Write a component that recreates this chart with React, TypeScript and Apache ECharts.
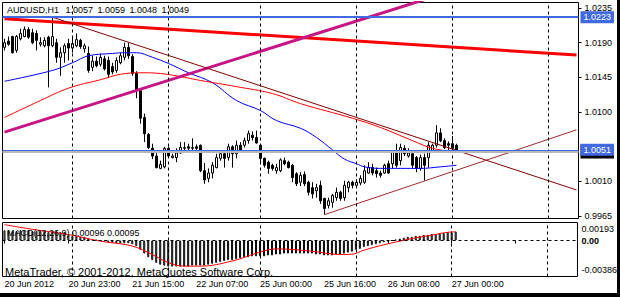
import React, { useEffect, useRef } from 'react';
import * as echarts from 'echarts';

// ---------- data ----------
const symbolName = 'AUDUSD,H1';
const lastOHLC = ['1.0057', '1.0059', '1.0048', '1.0049'];
const macdTitle = 'MACD(12,26,9) 0.00096 0.00095';
const copyright = 'MetaTrader, © 2001-2012, MetaQuotes Software Corp.';

const slotCount = 144; // hourly slots shown on the x axis (incl. empty future space)
const tickEvery = 16;
const timeTickLabels = [
  '20 Jun 2012', '20 Jun 23:00', '21 Jun 15:00', '22 Jun 07:00',
  '25 Jun 00:00', '25 Jun 16:00', '26 Jun 08:00', '27 Jun 00:00',
];
const dayStartBars = [17, 41, 64, 88, 112, 136];
const priceTicks = [0.9965, 1.001, 1.01, 1.0145, 1.019, 1.0235];
const priceMin = 0.9962;
const priceMax = 1.02421;

// [open, close, low, high]
const candles: number[][] = [
  [1.0184, 1.0190, 1.0180, 1.0195], [1.0192, 1.0188, 1.0186, 1.0198], [1.0198, 1.0177, 1.0176, 1.0199],
  [1.0180, 1.0198, 1.0177, 1.0200], [1.0195, 1.0202, 1.0193, 1.0208], [1.0198, 1.0207, 1.0197, 1.0211],
  [1.0207, 1.0197, 1.0195, 1.0210], [1.0203, 1.0190, 1.0188, 1.0208], [1.0202, 1.0193, 1.0180, 1.0206],
  [1.0188, 1.0190, 1.0185, 1.0197], [1.0186, 1.0193, 1.0184, 1.0197], [1.0197, 1.0186, 1.0132, 1.0199],
  [1.0186, 1.0198, 1.0184, 1.0223], [1.0190, 1.0171, 1.0164, 1.0195], [1.0171, 1.0177, 1.0147, 1.0184],
  [1.0177, 1.0186, 1.0164, 1.0189], [1.0189, 1.0183, 1.0167, 1.0195], [1.0183, 1.0189, 1.0177, 1.0197],
  [1.0186, 1.0194, 1.0184, 1.0202], [1.0193, 1.0185, 1.0182, 1.0195], [1.0182, 1.0186, 1.0177, 1.0189],
  [1.0176, 1.0154, 1.0151, 1.0185], [1.0158, 1.0166, 1.0153, 1.0173], [1.0166, 1.0160, 1.0158, 1.0172],
  [1.0162, 1.0171, 1.0159, 1.0176], [1.0169, 1.0156, 1.0154, 1.0173], [1.0167, 1.0149, 1.0144, 1.0172],
  [1.0159, 1.0152, 1.0149, 1.0164], [1.0154, 1.0167, 1.0151, 1.0171], [1.0164, 1.0173, 1.0162, 1.0177],
  [1.0171, 1.0184, 1.0167, 1.0190], [1.0184, 1.0173, 1.0169, 1.0190], [1.0172, 1.0150, 1.0147, 1.0175],
  [1.0150, 1.0128, 1.0118, 1.0153], [1.0128, 1.0092, 1.0085, 1.0131], [1.0093, 1.0072, 1.0061, 1.0098],
  [1.0071, 1.0054, 1.0052, 1.0073], [1.0053, 1.0043, 1.0039, 1.0059], [1.0043, 1.0028, 1.0027, 1.0047],
  [1.0027, 1.0032, 1.0026, 1.0037], [1.0029, 1.0053, 1.0027, 1.0055], [1.0053, 1.0043, 1.0042, 1.0055],
  [1.0041, 1.0043, 1.0040, 1.0046], [1.0041, 1.0047, 1.0035, 1.0053], [1.0047, 1.0054, 1.0046, 1.0061],
  [1.0053, 1.0054, 1.0050, 1.0061], [1.0055, 1.0053, 1.0051, 1.0059], [1.0053, 1.0054, 1.0050, 1.0066],
  [1.0055, 1.0053, 1.0051, 1.0058], [1.0057, 1.0024, 1.0022, 1.0058], [1.0024, 1.0012, 1.0007, 1.0034],
  [1.0014, 1.0021, 1.0009, 1.0027], [1.0021, 1.0031, 1.0014, 1.0035], [1.0028, 1.0041, 1.0027, 1.0046],
  [1.0040, 1.0046, 1.0037, 1.0049], [1.0046, 1.0040, 1.0028, 1.0047], [1.0041, 1.0055, 1.0037, 1.0059],
  [1.0055, 1.0046, 1.0028, 1.0057], [1.0046, 1.0057, 1.0040, 1.0063], [1.0057, 1.0050, 1.0048, 1.0061],
  [1.0057, 1.0063, 1.0054, 1.0067], [1.0063, 1.0072, 1.0059, 1.0076], [1.0070, 1.0067, 1.0063, 1.0075],
  [1.0067, 1.0060, 1.0059, 1.0076], [1.0057, 1.0040, 1.0034, 1.0058], [1.0040, 1.0031, 1.0028, 1.0041],
  [1.0035, 1.0027, 1.0020, 1.0037], [1.0031, 1.0027, 1.0024, 1.0033], [1.0024, 1.0028, 1.0020, 1.0033],
  [1.0024, 1.0038, 1.0022, 1.0040], [1.0037, 1.0033, 1.0031, 1.0041], [1.0035, 1.0028, 1.0027, 1.0037],
  [1.0031, 1.0015, 1.0009, 1.0033], [1.0020, 1.0007, 1.0004, 1.0022], [1.0009, 1.0018, 1.0004, 1.0022],
  [1.0019, 1.0007, 1.0004, 1.0023], [1.0009, 0.9996, 0.9992, 1.0011], [1.0002, 0.9994, 0.9988, 1.0009],
  [0.9998, 1.0002, 0.9989, 1.0007], [1.0005, 0.9985, 0.9981, 1.0011], [0.9988, 0.9975, 0.9967, 0.9989],
  [0.9979, 0.9985, 0.9975, 0.9989], [0.9983, 0.9992, 0.9976, 0.9994], [0.9989, 0.9996, 0.9985, 1.0002],
  [0.9996, 0.9988, 0.9985, 0.9998], [0.9989, 1.0005, 0.9985, 1.0011], [1.0002, 1.0009, 0.9996, 1.0011],
  [1.0009, 1.0005, 1.0001, 1.0011], [1.0005, 1.0009, 1.0002, 1.0013], [1.0008, 1.0014, 1.0005, 1.0018],
  [1.0009, 1.0024, 1.0007, 1.0031], [1.0021, 1.0028, 1.0020, 1.0035], [1.0028, 1.0021, 1.0018, 1.0033],
  [1.0024, 1.0020, 1.0015, 1.0028], [1.0021, 1.0018, 1.0015, 1.0024], [1.0021, 1.0031, 1.0020, 1.0033],
  [1.0033, 1.0021, 1.0020, 1.0037], [1.0033, 1.0048, 1.0027, 1.0050], [1.0050, 1.0031, 1.0028, 1.0059],
  [1.0037, 1.0054, 1.0031, 1.0059], [1.0053, 1.0046, 1.0043, 1.0057], [1.0043, 1.0047, 1.0041, 1.0053],
  [1.0046, 1.0031, 1.0027, 1.0050], [1.0041, 1.0027, 1.0022, 1.0043], [1.0027, 1.0041, 1.0024, 1.0045],
  [1.0041, 1.0031, 1.0011, 1.0046], [1.0041, 1.0057, 1.0028, 1.0061], [1.0050, 1.0057, 1.0048, 1.0059],
  [1.0057, 1.0073, 1.0054, 1.0083], [1.0073, 1.0063, 1.0061, 1.0079], [1.0063, 1.0054, 1.0052, 1.0066],
  [1.0059, 1.0057, 1.0050, 1.0062], [1.0059, 1.0053, 1.0050, 1.0069], [1.0057, 1.0049, 1.0048, 1.0059],
];

// moving averages, [bar, price] read at points along the curves
const maBlue: number[][] = [
  [0, 1.0140], [12, 1.0154], [17, 1.0164], [21, 1.0173], [27, 1.0176], [30, 1.0177], [33, 1.0177],
  [37, 1.0171], [41, 1.0163], [46, 1.0151], [52, 1.0138], [58, 1.0115], [64, 1.0102], [68, 1.0089],
  [74, 1.0079], [78, 1.0067], [82, 1.0051], [85, 1.0039], [88, 1.0033], [90, 1.0029], [94, 1.0027],
  [99, 1.0027], [104, 1.0027], [109, 1.0029], [113, 1.0031],
];
const maRed: number[][] = [
  [0, 1.0093], [9, 1.0115], [16, 1.0131], [24, 1.0142], [29, 1.0149], [34, 1.0151], [39, 1.0150],
  [45, 1.0145], [49, 1.0141], [58, 1.0133], [67, 1.0124], [74, 1.0111], [87, 1.0092], [94, 1.0080],
  [102, 1.0063], [107, 1.0053], [113, 1.0048],
];

// drawn objects
const trendHigh: number[][] = [[12, 1.0223], [143, 0.9999]];
const trendLow: number[][] = [[80, 0.9967], [143, 1.0077]];
const channelMagenta: number[][] = [[0, 1.0074], [110, 1.0254]];
const trendRed: number[][] = [[0, 1.0221], [143, 1.0174]];
const levelTop = 1.0223;
const levelCurrent = 1.0051;
const bidPrice = 1.0049;

// MACD
const macdMain: number[] = [
  0.0011, 0.0011, 0.0010, 0.0010, 0.0011, 0.0011, 0.0011, 0.0010, 0.0010, 0.0010, 0.0010, 0.0009, 0.0010, 0.0010, 0.0009, 0.0009,
  0.0006, 0.0005, 0.0005, 0.0004, 0.0004, 0.0002, 0.0001,
  0.00005, 0.0, -0.0001,
  -0.0002, -0.00025, -0.0003, -0.0003, -0.0003, -0.0003, -0.0004,
  -0.0006, -0.0010, -0.0014, -0.0018, -0.0021,
  -0.0024, -0.0026, -0.0027, -0.0028, -0.0028, -0.0028, -0.0028,
  -0.0028, -0.0028, -0.0027, -0.0027, -0.0027, -0.0027,
  -0.0026, -0.0025, -0.0024, -0.0023, -0.0022, -0.0021, -0.0021,
  -0.0020, -0.0019, -0.0018, -0.0018, -0.0017, -0.0017, -0.0017,
  -0.0017, -0.0016, -0.0016, -0.0015, -0.0015, -0.0014, -0.0014, -0.0014, -0.0014, -0.0014, -0.0014, -0.0014,
  -0.0014, -0.0015, -0.0015, -0.0016, -0.0016, -0.0016, -0.0015, -0.0015, -0.0014, -0.0013, -0.0012,
  -0.0010, -0.0009, -0.0007, -0.0006, -0.0005, -0.0004,
  -0.0003, -0.0002, -0.0001, 0.0,
  0.0001, 0.0002, 0.0003, 0.0004, 0.0004, 0.0005, 0.0005,
  0.0006, 0.0006, 0.0007, 0.0007, 0.0008, 0.0008, 0.0009, 0.0009, 0.00096,
];
const macdSignal: number[][] = [
  [0, 0.0017], [7, 0.0012], [16, 0.00064], [24, -0.00007], [32, -0.0006], [37, -0.0015], [41, -0.00236],
  [45, -0.00275], [49, -0.00275], [57, -0.0022], [64, -0.00125], [68, -0.0009], [77, -0.00115],
  [84, -0.0015], [87, -0.00147], [90, -0.00104], [95, -0.00046], [99, -0.00007], [103, 0.00029],
  [107, 0.00057], [110, 0.00082], [113, 0.00095],
];
const macdTicks = [-0.00386, 0, 0.00193];

// ---------- chart ----------
const FONT = '"Liberation Sans", Arial, sans-serif';

export default function App() {
  const ref = useRef<HTMLDivElement>(null);

  useEffect(() => {
    if (!ref.current) return;
    const chart = echarts.init(ref.current, null, { renderer: 'svg' });
    const cats = Array.from({ length: slotCount }, (_, i) => String(i));
    const dashed = { color: '#000', width: 1, type: [3, 3] as number[] };
    const dayLines = dayStartBars.map((b) => ({ xAxis: b, lineStyle: dashed, label: { show: false } }));
    const txt = { fontSize: 9, fontFamily: FONT, color: '#000' };
    const priceTag = (bg: string, pad: number[]) => ({
      show: true,
      position: 'end',
      distance: 2,
      formatter: (p: any) => Number(p.value).toFixed(4),
      backgroundColor: bg,
      color: '#fff',
      fontSize: 9,
      fontFamily: FONT,
      padding: pad,
      lineHeight: 10,
    });
    const objLine = (data: number[][], color: string, width: number) => ({
      type: 'line',
      xAxisIndex: 0,
      yAxisIndex: 0,
      data,
      symbol: 'none',
      clip: true,
      silent: true,
      lineStyle: { color, width },
    });
    const header =
      `{s|${symbolName}}` + lastOHLC.map((v) => ` {n|${v}}`).join('');

    chart.setOption({
      animation: false,
      backgroundColor: '#fff',
      textStyle: { fontFamily: FONT },
      title: [
        {
          text: header,
          left: 7,
          top: 5,
          padding: 0,
          textStyle: {
            ...txt,
            fontWeight: 'normal',
            rich: { s: { ...txt, padding: [0, 2, 0, 0] }, n: { ...txt, padding: [0, 0, 0, 2] } },
          },
        },
        { text: macdTitle, left: 7, top: 228, padding: 0, textStyle: { ...txt, fontWeight: 'normal' } },
        { text: copyright, left: 5, top: 266, padding: 0, textStyle: { ...txt, fontSize: 11, fontWeight: 'normal' } },
      ],
      grid: [
        { left: 2.5, top: 2.5, width: 576, height: 216, show: true, borderColor: '#000', borderWidth: 1, backgroundColor: 'transparent' },
        { left: 2.5, top: 222.5, width: 576, height: 54, show: true, borderColor: '#000', borderWidth: 1, backgroundColor: 'transparent' },
      ],
      xAxis: [
        { type: 'category', gridIndex: 0, data: cats, boundaryGap: true, show: false },
        {
          type: 'category',
          gridIndex: 1,
          data: cats,
          boundaryGap: true,
          axisLine: { show: false },
          splitLine: { show: false },
          axisTick: { show: true, interval: tickEvery - 1, alignWithLabel: true, length: 3, lineStyle: { color: '#000' } },
          axisLabel: {
            ...txt,
            interval: tickEvery - 1,
            align: 'left',
            margin: 3,
            formatter: (_v: string, idx: number) => timeTickLabels[idx / tickEvery] ?? '',
          },
        },
      ],
      yAxis: [
        {
          type: 'value',
          gridIndex: 0,
          position: 'right',
          min: priceMin,
          max: priceMax,
          splitLine: { show: false },
          axisLine: { show: false },
          axisTick: { show: true, customValues: priceTicks, length: 3, lineStyle: { color: '#000' } },
          axisLabel: { ...txt, customValues: priceTicks, margin: 6, formatter: (v: number) => v.toFixed(4) },
        },
        {
          type: 'value',
          gridIndex: 1,
          position: 'right',
          min: macdTicks[0],
          max: macdTicks[2],
          splitLine: { show: false },
          axisLine: { show: false },
          axisTick: { show: false },
          axisLabel: {
            ...txt,
            customValues: macdTicks,
            margin: 4,
            formatter: (v: number) => (v > 0 ? `{t|${v.toFixed(5)}}` : v < 0 ? `{b|${v.toFixed(5)}}` : '{z|0.00}'),
            rich: {
              t: { ...txt, padding: [12, 0, 0, 0] },
              b: { ...txt, padding: [0, 0, 14, 0] },
              z: { ...txt, fontWeight: 'bold' },
            },
          },
        },
      ],
      series: [
        {
          type: 'candlestick',
          xAxisIndex: 0,
          yAxisIndex: 0,
          data: candles,
          barWidth: 2,
          silent: true,
          itemStyle: { color: '#fff', color0: '#000', borderColor: '#000', borderColor0: '#000', borderWidth: 1 },
          markLine: {
            symbol: 'none',
            silent: true,
            precision: 5,
            data: [
              ...dayLines,
              { yAxis: bidPrice, lineStyle: { color: '#B8B8B8', width: 2, type: 'solid' }, label: priceTag('#000', [1, 3, 3, 3]) },
              { yAxis: levelCurrent, lineStyle: { color: '#4169E1', width: 1, type: 'solid' }, label: priceTag('#4169E1', [1, 3, 1, 3]) },
              { yAxis: levelTop, lineStyle: { color: '#4169E1', width: 2, type: 'solid' }, label: priceTag('#4169E1', [1, 3, 1, 3]) },
            ],
          },
        },
        { ...objLine(maBlue, '#0000FF', 1), smooth: 0.4 },
        { ...objLine(maRed, '#FF0000', 1), smooth: 0.4 },
        objLine(trendRed, '#FF0000', 3),
        objLine(channelMagenta, '#C71585', 3),
        objLine(trendHigh, '#800000', 1),
        objLine(trendLow, '#A0282A', 1),
        {
          type: 'bar',
          xAxisIndex: 1,
          yAxisIndex: 1,
          data: macdMain,
          barWidth: 2,
          silent: true,
          itemStyle: { color: '#fff', borderColor: '#000', borderWidth: 1 },
          markLine: {
            symbol: 'none',
            silent: true,
            precision: 6,
            data: [...dayLines, { yAxis: 0, lineStyle: dashed, label: { show: false } }],
          },
        },
        {
          type: 'line',
          xAxisIndex: 1,
          yAxisIndex: 1,
          data: macdSignal,
          symbol: 'none',
          smooth: 0.4,
          silent: true,
          lineStyle: { color: '#FF0000', width: 1 },
        },
      ],
      graphic: [
        { type: 'rect', shape: { x: 617, y: 0, width: 3, height: 297 }, style: { fill: '#000' }, silent: true },
        { type: 'rect', shape: { x: 0, y: 293, width: 620, height: 4 }, style: { fill: '#000' }, silent: true },
      ],
    });

    return () => chart.dispose();
  }, []);

  return <div ref={ref} style={{ position: 'fixed', left: 0, top: 0, width: 620, height: 297 }} />;
}
